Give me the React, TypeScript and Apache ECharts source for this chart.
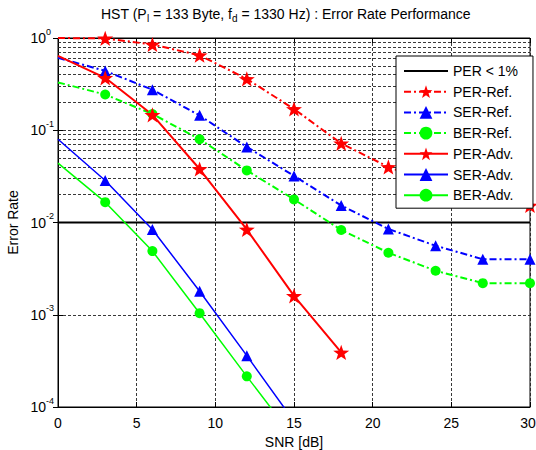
import React, { useEffect, useRef } from "react";
import * as echarts from "echarts";

// ---- data ----
const snr = [0, 3, 6, 9, 12, 15, 18, 21, 24, 27, 30];
const perRef = [1.0, 0.99, 0.85, 0.65, 0.36, 0.17, 0.072, 0.04, 0.026, 0.0196, 0.0153];
const serRef = [0.61, 0.44, 0.275, 0.145, 0.066, 0.032, 0.0153, 0.0085, 0.0056, 0.004, 0.004];
const berRef = [0.33, 0.244, 0.15, 0.08, 0.0367, 0.0178, 0.0083, 0.0047, 0.003, 0.0022, 0.0022];
const perAdv = [0.64, 0.37, 0.147, 0.038, 0.0084, 0.0016, 0.00039];
const serAdv = [0.08, 0.0285, 0.0084, 0.0018, 0.00036, 0.00007];
const berAdv = [0.044, 0.0166, 0.0049, 0.00104, 0.000215, 0.000046];
const threshold = 0.01;
const xRange = [0, 30];
const yRange = [1e-4, 1];
const minorMantissas = [2, 3, 4, 5, 6, 7, 8, 9];
const decades = [1e-4, 1e-3, 1e-2, 1e-1];
const seriesNames = ["PER < 1%", "PER-Ref.", "SER-Ref.", "BER-Ref.", "PER-Adv.", "SER-Adv.", "BER-Adv."];

const FONT = "'Liberation Sans', Arial, Helvetica, sans-serif";
const RED = "#ff0000";
const BLUE = "#0000ff";
const GREEN = "#00ff00";
const DASHDOT = [7, 3, 2, 3];
const GRIDLINE = { type: [3, 2], color: "#222", width: 0.9 };

function starPath(): string {
  const pts: string[] = [];
  for (let i = 0; i < 10; i++) {
    const r = i % 2 === 0 ? 50 : 20;
    const a = -Math.PI / 2 + (i * Math.PI) / 5;
    pts.push(`${(50 + r * Math.cos(a)).toFixed(2)} ${(50 + r * Math.sin(a)).toFixed(2)}`);
  }
  return "path://M" + pts.join(" L") + " Z";
}
const STAR = starPath();

function toData(arr: number[]) {
  return arr.map((v, i) =>
    i === 0 || v < yRange[0] ? { value: [snr[i], v], symbol: "none" } : { value: [snr[i], v] }
  );
}

const expOf = (v: number) => String(Math.round(Math.log10(v)));

export default function App() {
  const ref = useRef<HTMLDivElement>(null);
  useEffect(() => {
    if (!ref.current) return;
    const chart = echarts.init(ref.current, undefined, { renderer: "svg" });
    const minorLines: any[] = [];
    decades.forEach((d) => minorMantissas.forEach((m) => minorLines.push({ yAxis: m * d })));

    const mkSeries = (name: string, arr: number[], color: string, dashed: boolean, symbol: string, size: any, width: number, clip: boolean) => ({
      name,
      type: "line",
      xAxisIndex: 0,
      yAxisIndex: 0,
      data: toData(arr),
      symbol,
      symbolSize: size,
      symbolKeepAspect: true,
      showAllSymbol: true,
      clip,
      lineStyle: { color, width, type: dashed ? DASHDOT : "solid" },
      itemStyle: { color, borderWidth: 0 },
      emphasis: { disabled: true },
    });

    const logAxisBase = {
      type: "log",
      logBase: 10,
      min: yRange[0],
      max: yRange[1],
      splitNumber: 4,
    };

    const option: any = {
      animation: false,
      backgroundColor: "#ffffff",
      textStyle: { fontFamily: FONT },
      title: {
        text: "{m|HST (P}{s|l}{m| = 133 Byte, f}{s|d}{m| = 1330 Hz) : Error Rate Performance}",
        left: 96,
        top: 2,
        textStyle: {
          fontFamily: FONT,
          fontWeight: "normal",
          rich: {
            m: { fontSize: 14, lineHeight: 16, color: "#000", fontFamily: FONT, verticalAlign: "top" },
            s: { fontSize: 10, lineHeight: 10, color: "#000", fontFamily: FONT, padding: [9, 0, 0, 0], verticalAlign: "bottom" },
          },
        },
      },
      legend: {
        z: 10,
        data: seriesNames.map((n) => (n === "PER < 1%" ? { name: n, itemStyle: { opacity: 0 } } : { name: n })),
        orient: "vertical",
        left: 396,
        top: 56,
        backgroundColor: "#ffffff",
        borderColor: "#000",
        borderWidth: 1,
        borderRadius: 0,
        padding: [7, 15, 5, 7],
        itemWidth: 44,
        itemHeight: 16,
        itemGap: 4.7,
        textStyle: { fontSize: 14, color: "#000", fontFamily: FONT, lineHeight: 16 },
      },
      grid: {
        left: 58,
        right: 6,
        top: 38,
        bottom: 43,
        show: true,
        borderColor: "#000",
        borderWidth: 1,
        backgroundColor: "#fff",
        containLabel: false,
        outerBoundsMode: "none",
      },
      xAxis: [
        {
          type: "value",
          min: xRange[0],
          max: xRange[1],
          interval: 5,
          name: "SNR [dB]",
          nameLocation: "middle",
          nameGap: 28,
          nameTextStyle: { fontSize: 14, color: "#000", fontFamily: FONT },
          axisLine: { show: true, lineStyle: { color: "#000", width: 1 } },
          axisTick: { show: true, inside: true, length: 5, lineStyle: { color: "#000" } },
          axisLabel: {
            fontSize: 14,
            color: "#000",
            margin: 9,
            fontFamily: FONT,
            formatter: (v: number) => (v === xRange[1] ? `{r|${v}}` : String(v)),
            rich: { r: { fontSize: 14, color: "#000", fontFamily: FONT, padding: [0, 4, 0, 0] } },
          },
          splitLine: { show: true, lineStyle: GRIDLINE },
        },
        {
          type: "value",
          position: "top",
          min: xRange[0],
          max: xRange[1],
          interval: 5,
          axisLine: { show: true, lineStyle: { color: "#000", width: 1 } },
          axisTick: { show: true, inside: true, length: 5, lineStyle: { color: "#000" } },
          axisLabel: { show: false },
          splitLine: { show: false },
        },
      ],
      yAxis: [
        {
          ...logAxisBase,
          name: "Error Rate",
          nameLocation: "middle",
          nameGap: 37,
          nameTextStyle: { fontSize: 14, color: "#000", fontFamily: FONT },
          axisLine: { show: true, lineStyle: { color: "#000", width: 1 } },
          axisTick: { show: true, inside: true, length: 5, lineStyle: { color: "#000" } },
          axisLabel: {
            margin: 12,
            fontSize: 14,
            color: "#000",
            fontFamily: FONT,
            formatter: () => "10",
          },
          splitLine: { show: true, lineStyle: GRIDLINE },
        },
        {
          ...logAxisBase,
          position: "right",
          axisLine: { show: true, lineStyle: { color: "#000", width: 1 } },
          axisTick: { show: true, inside: true, length: 5, lineStyle: { color: "#000" } },
          axisLabel: { show: false },
          splitLine: { show: false },
        },
        {
          ...logAxisBase,
          position: "left",
          axisLine: { show: false },
          axisTick: { show: false },
          splitLine: { show: false },
          axisLabel: {
            margin: 12,
            align: "left",
            fontSize: 9,
            lineHeight: 13,
            color: "#000",
            fontFamily: FONT,
            formatter: (v: number) => `${expOf(v)}\n\u00a0`,
          },
        },
      ],
      series: [
        {
          name: "_minor",
          type: "line",
          data: [],
          silent: true,
          z: 1,
          markLine: {
            z: 1,
            silent: true,
            symbol: ["none", "none"],
            label: { show: false },
            lineStyle: GRIDLINE,
            emphasis: { disabled: true },
            data: minorLines,
          },
        },
        {
          name: "PER < 1%",
          type: "line",
          data: [[xRange[0], threshold], [xRange[1], threshold]],
          symbol: "none",
          lineStyle: { color: "#000", width: 2 },
          itemStyle: { color: "#000", opacity: 0 },
          emphasis: { disabled: true },
        },
        mkSeries("PER-Ref.", perRef, RED, true, STAR, 16, 2, false),
        mkSeries("SER-Ref.", serRef, BLUE, true, "triangle", 11, 2, false),
        mkSeries("BER-Ref.", berRef, GREEN, true, "circle", 10, 2, false),
        mkSeries("PER-Adv.", perAdv, RED, false, STAR, 16, 2, false),
        mkSeries("SER-Adv.", serAdv, BLUE, false, "triangle", 11, 1.5, true),
        mkSeries("BER-Adv.", berAdv, GREEN, false, "circle", 10, 1.5, true),
      ],
    };
    chart.setOption(option);
    return () => chart.dispose();
  }, []);
  return <div ref={ref} style={{ position: "absolute", left: 0, top: 0, width: 536, height: 450 }} />;
}
